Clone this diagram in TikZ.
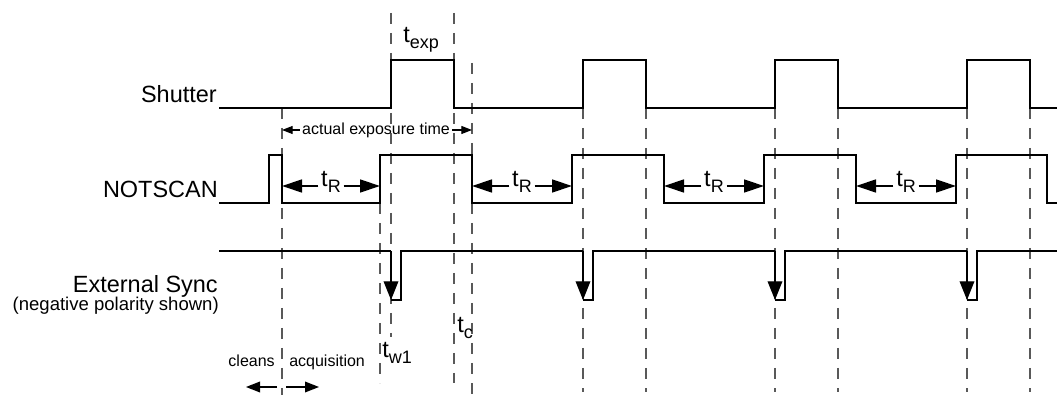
\documentclass[tikz,border=0pt]{standalone}
\usepackage{fontspec}
\setmainfont{Liberation Sans}
\usetikzlibrary{arrows.meta}

\newcommand{\tsub}[1]{t\raisebox{-4pt}{\fontsize{13.5}{14}\selectfont #1}}

\tikzset{
  sig/.style={line width=1pt, black},
  guide/.style={line width=0.9pt, black!65, dash pattern=on 8.5pt off 6.5pt},
  biglbl/.style={font=\fontsize{17.6}{20}\selectfont, inner sep=0pt},
  midlbl/.style={font=\fontsize{13.9}{16}\selectfont, inner sep=0pt},
  smalllbl/.style={font=\fontsize{12}{14}\selectfont, inner sep=0pt},
  bigtip/.style={line width=1pt, -{Triangle[length=15pt, width=9.75pt]}},
  synctip/.style={-{Triangle[length=14pt, width=11pt]}},
  midtip/.style={line width=1pt, -{Triangle[length=10.5pt, width=8pt]}},
  smalltip/.style={line width=0.8pt, -{Triangle[length=8pt, width=6pt]}}
}

\begin{document}
\begin{tikzpicture}[x=0.75pt, y=-0.75pt]
\useasboundingbox (0,0) rectangle (1057,395);

% Guide lines
\draw[guide] (282,108) -- (282,395);
\draw[guide] (380,203) -- (380,383);
\draw[guide] (391,13) -- (391,337);
\draw[guide] (454,13) -- (454,383);
\draw[guide] (472,63) -- (472,395);
\draw[guide] (583,108) -- (583,392);
\draw[guide] (646,108) -- (646,392);
\draw[guide] (775,108) -- (775,392);
\draw[guide] (838,108) -- (838,392);
\draw[guide] (967,108) -- (967,392);
\draw[guide] (1030,108) -- (1030,392);

% Shutter
\node[biglbl, anchor=base east] (shutterlbl) at (217,103) {Shutter};
\draw[sig] (219,108) -- (391,108) -- (391,60) -- (454,60) -- (454,108) -- (583,108) -- (583,60) -- (646,60) -- (646,108)
  -- (775,108) -- (775,60) -- (838,60) -- (838,108) -- (967,108) -- (967,60) -- (1030,60) -- (1030,108) -- (1057,108);
\node[biglbl, anchor=base west] (texp) at (403,43) {\tsub{exp}};

% Exposure time
\coordinate (expL) at (282,130);
\coordinate (expR) at (472,130);
\node[smalllbl, anchor=base, inner xsep=1.5pt] (exptime) at (376,135) {actual exposure time};
\draw[smalltip] (exptime.west |- expL) -- (expL);
\draw[smalltip] (exptime.east |- expR) -- (expR);

% NOTSCAN
\node[biglbl, anchor=base east] (notscanlbl) at (218,198) {NOTSCAN};
\draw[sig] (219,203) -- (269,203) -- (269,155) -- (282,155) -- (282,203) -- (380,203) -- (380,155) -- (472,155) -- (472,203)
  -- (572,203) -- (572,155) -- (664,155) -- (664,203) -- (764,203) -- (764,155) -- (856,155) -- (856,203)
  -- (956,203) -- (956,155) -- (1047,155) -- (1047,203) -- (1057,203);

% Readout times
\coordinate (nsF1) at (282,186); \coordinate (nsR1) at (380,186);
\coordinate (nsF2) at (472,186); \coordinate (nsR2) at (572,186);
\coordinate (nsF3) at (664,186); \coordinate (nsR3) at (764,186);
\coordinate (nsF4) at (856,186); \coordinate (nsR4) at (956,186);
\node[biglbl, anchor=base, inner xsep=2pt] (tR1) at (331,187) {\tsub{R}};
\node[biglbl, anchor=base, inner xsep=2pt] (tR2) at (522,187) {\tsub{R}};
\node[biglbl, anchor=base, inner xsep=2pt] (tR3) at (714,187) {\tsub{R}};
\node[biglbl, anchor=base, inner xsep=2pt] (tR4) at (906,187) {\tsub{R}};
\draw[bigtip] (tR1.west |- nsF1) -- (nsF1);
\draw[bigtip] (tR1.east |- nsR1) -- (nsR1);
\draw[bigtip] (tR2.west |- nsF2) -- (nsF2);
\draw[bigtip] (tR2.east |- nsR2) -- (nsR2);
\draw[bigtip] (tR3.west |- nsF3) -- (nsF3);
\draw[bigtip] (tR3.east |- nsR3) -- (nsR3);
\draw[bigtip] (tR4.west |- nsF4) -- (nsF4);
\draw[bigtip] (tR4.east |- nsR4) -- (nsR4);

% External sync
\node[biglbl, anchor=base east] (synclbl) at (218,293) {External Sync};
\node[midlbl, anchor=base east] (polaritylbl) at (219,311) {(negative polarity shown)};
\draw[sig] (219,251) -- (391,251);
\draw[sig, synctip] (391,251) -- (391,300);
\draw[sig] (391,300) -- (401,300) -- (401,251) -- (583,251);
\draw[sig, synctip] (583,251) -- (583,300);
\draw[sig] (583,300) -- (593,300) -- (593,251) -- (775,251);
\draw[sig, synctip] (775,251) -- (775,300);
\draw[sig] (775,300) -- (785,300) -- (785,251) -- (967,251);
\draw[sig, synctip] (967,251) -- (967,300);
\draw[sig] (967,300) -- (977,300) -- (977,251) -- (1057,251);

% Timing marks
\node[biglbl, anchor=base west] (tw1) at (382,358) {\tsub{w1}};
\node[biglbl, anchor=base west] (tc) at (457,333) {\tsub{c}};

% Cleans / acquisition
\node[smalllbl, anchor=base east] (cleans) at (275,367) {cleans};
\node[smalllbl, anchor=base west] (acq) at (289,367) {acquisition};
\coordinate (clS) at (277,387); \coordinate (clE) at (246,387);
\coordinate (acS) at (286,387); \coordinate (acE) at (319,387);
\draw[midtip] (clS) -- (clE);
\draw[midtip] (acS) -- (acE);

\end{tikzpicture}
\end{document}
